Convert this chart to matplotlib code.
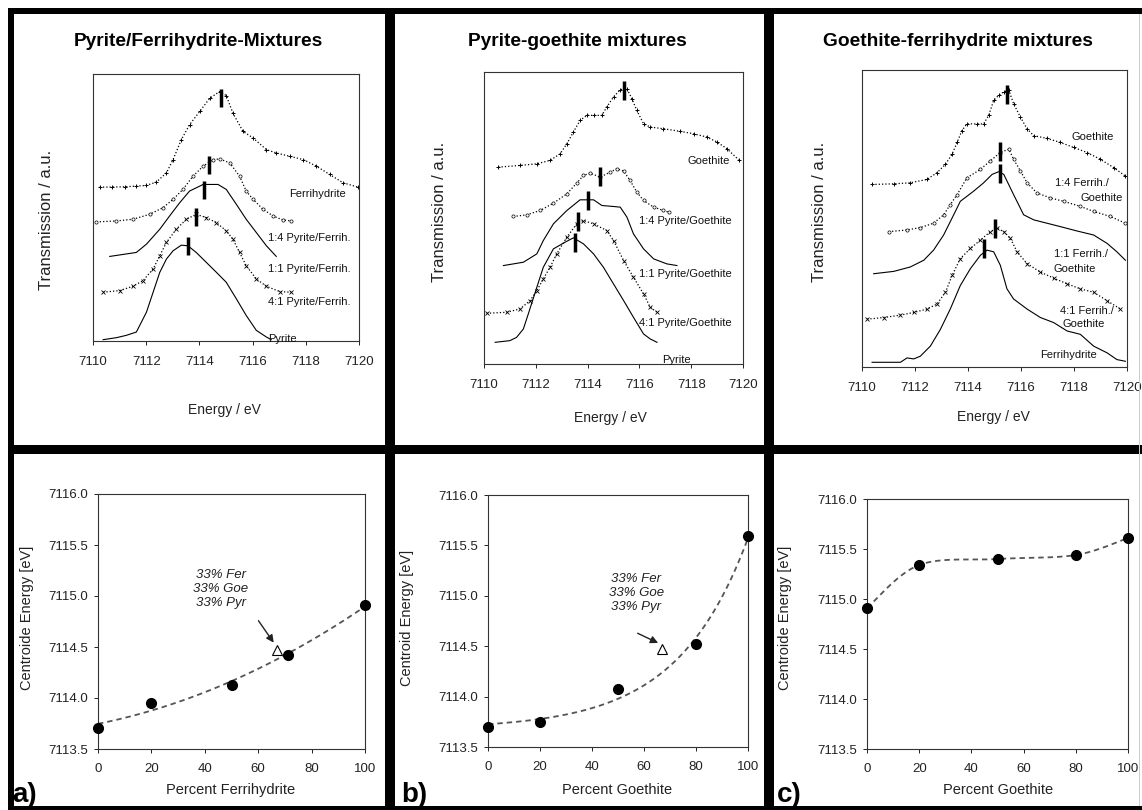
import numpy as np
import matplotlib
matplotlib.use("Agg")
import matplotlib.pyplot as plt
from matplotlib.patches import Rectangle

plt.rcParams['font.family'] = ['Liberation Sans', 'DejaVu Sans']

W, H = 1142, 810

# ---- top row: XANES pre-edge spectra (energy in eV, transmission in a.u.) ----
# Pyrite / ferrihydrite
p1_ferri_e = [7110.25, 7110.7, 7111.2, 7111.6, 7112.0, 7112.38, 7112.76, 7113.01, 7113.32, 7113.63, 7114.01,
              7114.39, 7114.76, 7115.01, 7115.26, 7115.64, 7116.02, 7116.52, 7116.89, 7117.39, 7117.9, 7118.4,
              7118.9, 7119.4, 7119.96]
p1_ferri_y = [452, 452, 453, 455, 457, 467, 495, 535, 595, 640, 680, 720, 740, 728, 675, 620, 600, 565, 555, 545,
              535, 515, 490, 465, 452]
p1_14_e = [7110.13, 7110.88, 7111.5, 7112.13, 7112.63, 7113.01, 7113.38, 7113.76, 7114.14, 7114.51, 7114.76,
           7115.14, 7115.51, 7115.76, 7116.02, 7116.39, 7116.77, 7117.14, 7117.46]
p1_14_y = [347, 350, 355, 370, 390, 415, 445, 485, 515, 535, 537, 525, 485, 440, 415, 385, 365, 353, 350]
p1_11_e = [7110.63, 7111.63, 7112.01, 7112.51, 7112.88, 7113.26, 7113.63, 7114.14, 7114.7, 7115.01, 7115.39,
           7115.76, 7116.14, 7116.52, 7116.89]
p1_11_y = [243, 255, 280, 325, 365, 405, 440, 460, 460, 445, 400, 355, 315, 275, 243]
p1_41_e = [7110.38, 7111.0, 7111.5, 7111.88, 7112.26, 7112.51, 7112.76, 7113.13, 7113.51, 7113.88, 7114.26,
           7114.64, 7115.01, 7115.26, 7115.51, 7115.76, 7116.14, 7116.52, 7117.02, 7117.46]
p1_41_y = [135, 140, 153, 170, 205, 245, 285, 325, 355, 370, 360, 345, 320, 295, 255, 215, 175, 153, 137, 135]
p1_pyr_e = [7110.38, 7110.88, 7111.25, 7111.63, 7112.01, 7112.26, 7112.51, 7112.76, 7113.01, 7113.32, 7113.57,
            7113.88, 7114.26, 7114.64, 7115.01, 7115.39, 7115.76, 7116.14, 7116.52, 7116.7]
p1_pyr_y = [-8, -2, 5, 15, 75, 135, 195, 235, 260, 277, 275, 255, 225, 195, 165, 115, 65, 20, 0, -8]
p1_cent_e = [7114.82, 7114.36, 7114.16, 7113.86, 7113.57]
p1_cent_y = [722, 520, 443, 361, 274]
p1_labels = ["Ferrihydrite", "1:4 Pyrite/Ferrih.", "1:1 Pyrite/Ferrih.", "4:1 Pyrite/Ferrih.", "Pyrite"]
p1_lab_e = [7117.39, 7116.58, 7116.58, 7116.58, 7116.58]
p1_lab_y = [432, 300, 205, 105, -5]

# Pyrite / goethite
p2_goe_e = [7110.55, 7111.39, 7112.04, 7112.55, 7112.94, 7113.2, 7113.45, 7113.71, 7113.97, 7114.23, 7114.55,
            7114.74, 7115.0, 7115.26, 7115.52, 7115.71, 7115.9, 7116.16, 7116.42, 7116.93, 7117.58, 7118.09,
            7118.61, 7119.0, 7119.38, 7119.83]
p2_goe_y = [535, 540, 545, 555, 575, 605, 640, 675, 690, 690, 690, 715, 745, 767, 770, 740, 705, 665, 655, 650,
            642, 635, 625, 610, 590, 557]
p2_14_e = [7111.13, 7111.65, 7112.17, 7112.68, 7113.2, 7113.58, 7113.84, 7114.1, 7114.49, 7114.87, 7115.13,
           7115.39, 7115.64, 7115.9, 7116.16, 7116.55, 7116.93, 7117.13]
p2_14_y = [387, 392, 405, 427, 455, 487, 510, 517, 505, 520, 530, 523, 495, 460, 435, 415, 405, 400]
p2_11_e = [7110.75, 7111.52, 7112.04, 7112.29, 7112.68, 7113.2, 7113.71, 7114.23, 7114.55, 7115.0, 7115.26,
           7115.52, 7115.77, 7116.16, 7116.55, 7117.06, 7117.45]
p2_11_y = [240, 250, 275, 315, 365, 405, 437, 437, 420, 417, 415, 385, 335, 290, 260, 245, 240]
p2_41_e = [7110.1, 7110.88, 7111.39, 7111.78, 7112.04, 7112.29, 7112.55, 7112.81, 7113.2, 7113.58, 7113.84,
           7114.23, 7114.74, 7115.0, 7115.39, 7115.77, 7116.16, 7116.42, 7116.68]
p2_41_y = [97, 100, 110, 135, 165, 200, 235, 275, 325, 365, 375, 365, 345, 315, 255, 205, 155, 115, 100]
p2_pyr_e = [7110.43, 7111.0, 7111.26, 7111.52, 7111.71, 7112.04, 7112.29, 7112.68, 7113.13, 7113.45, 7113.84,
            7114.23, 7114.61, 7115.0, 7115.39, 7115.77, 7116.16, 7116.42, 7116.68]
p2_pyr_y = [10, 15, 25, 50, 95, 175, 235, 290, 310, 323, 305, 275, 235, 185, 135, 85, 35, 20, 10]
p2_cent_e = [7115.41, 7114.48, 7114.03, 7113.62, 7113.52]
p2_cent_y = [765, 507, 435, 373, 310]
p2_labels = ["Goethite", "1:4 Pyrite/Goethite", "1:1 Pyrite/Goethite", "4:1 Pyrite/Goethite", "Pyrite"]
p2_lab_e = [7117.84, 7115.97, 7115.97, 7115.97, 7116.87]
p2_lab_y = [552, 373, 215, 67, -43]

# Goethite / ferrihydrite
p3_goe_e = [7110.38, 7111.2, 7111.82, 7112.45, 7112.83, 7113.15, 7113.4, 7113.59, 7113.77, 7113.96, 7114.34,
            7114.59, 7114.78, 7114.97, 7115.16, 7115.35, 7115.54, 7115.72, 7115.98, 7116.23, 7116.48, 7116.98,
            7117.48, 7117.99, 7118.49, 7118.99, 7119.5, 7119.94]
p3_goe_y = [542, 544, 547, 557, 577, 602, 632, 667, 702, 722, 722, 722, 747, 792, 807, 817, 822, 782, 742, 707,
            687, 679, 667, 652, 637, 617, 592, 567]
p3_14_e = [7111.01, 7111.7, 7112.2, 7112.7, 7113.08, 7113.33, 7113.59, 7113.96, 7114.47, 7114.84, 7115.22,
           7115.54, 7115.72, 7115.98, 7116.23, 7116.6, 7117.11, 7117.61, 7118.24, 7118.74, 7119.37, 7119.94]
p3_14_y = [402, 407, 414, 427, 452, 482, 512, 562, 587, 612, 637, 647, 617, 582, 547, 517, 502, 492, 477, 462,
           447, 427]
p3_11_e = [7110.44, 7111.2, 7111.82, 7112.33, 7112.7, 7113.08, 7113.46, 7113.71, 7114.21, 7114.59, 7114.91,
           7115.16, 7115.35, 7115.72, 7116.1, 7116.48, 7116.98, 7117.48, 7118.11, 7118.74, 7119.25, 7119.62,
           7119.94]
p3_11_y = [277, 284, 297, 317, 347, 392, 452, 492, 522, 547, 572, 580, 572, 512, 452, 437, 427, 417, 404, 392,
           367, 342, 317]
p3_41_e = [7110.19, 7110.82, 7111.45, 7111.95, 7112.45, 7112.83, 7113.15, 7113.4, 7113.71, 7114.09, 7114.47,
           7114.84, 7115.09, 7115.35, 7115.6, 7115.85, 7116.23, 7116.73, 7117.23, 7117.74, 7118.24, 7118.74,
           7119.25, 7119.75]
p3_41_y = [142, 147, 154, 162, 172, 187, 222, 272, 322, 352, 377, 402, 412, 402, 382, 342, 307, 282, 264, 247,
           232, 222, 197, 172]
p3_fer_e = [7110.38, 7111.45, 7111.7, 7111.95, 7112.2, 7112.58, 7112.96, 7113.33, 7113.71, 7114.09, 7114.47,
            7114.72, 7114.97, 7115.22, 7115.47, 7115.72, 7116.23, 7116.73, 7117.23, 7117.74, 7118.24, 7118.74,
            7119.25, 7119.62, 7119.94]
p3_fer_y = [14, 14, 27, 24, 32, 62, 112, 172, 242, 292, 332, 347, 342, 302, 232, 202, 172, 147, 132, 107, 97,
            62, 42, 22, 17]
p3_cent_e = [7115.47, 7115.19, 7115.19, 7115.01, 7114.59]
p3_cent_y = [809, 640, 575, 412, 352]
p3_labels = ["Goethite", "1:4 Ferrih./", "Goethite", "1:1 Ferrih./", "Goethite", "4:1 Ferrih./", "Goethite",
             "Ferrihydrite"]
p3_lab_e = [7117.92, 7117.30, 7118.24, 7117.23, 7117.23, 7117.48, 7117.55, 7116.73]
p3_lab_y = [684, 547, 502, 337, 292, 167, 127, 37]

# ---- bottom row: centroid energies ----
pct_a = [0, 20, 50, 71, 100]
cen_a = [7113.71, 7113.95, 7114.13, 7114.42, 7114.91]
pct_b = [0, 20, 50, 80, 100]
cen_b = [7113.70, 7113.75, 7114.08, 7114.52, 7115.59]
pct_c = [0, 20, 50, 80, 100]
cen_c = [7114.91, 7115.34, 7115.40, 7115.44, 7115.61]
tern_a = (67, 7114.47)
tern_b = (67, 7114.47)
tern_text = "33% Fer\n33% Goe\n33% Pyr"


def axes_px(fig, x0, y0, x1, y1):
    return fig.add_axes([x0 / W, 1 - y1 / H, (x1 - x0) / W, (y1 - y0) / H])


def rect_px(fig, x0, y0, x1, y1, color='black'):
    fig.add_artist(Rectangle((x0 / W, 1 - y1 / H), (x1 - x0) / W, (y1 - y0) / H,
                             transform=fig.transFigure, facecolor=color, edgecolor='none'))


def text_px(fig, x, y, s, **kw):
    fig.text(x / W, 1 - y / H, s, **kw)


def smooth(xs, ys, n=40):
    # excel-like smoothed line through the points (cubic bezier)
    P = np.column_stack([xs, ys]).astype(float)
    P = np.vstack([P[0], P, P[-1]])
    t = np.linspace(0, 1, n)[:, None]
    segs = []
    for i in range(1, len(P) - 2):
        p0, p1, p2, p3 = P[i - 1], P[i], P[i + 1], P[i + 2]
        c1 = p1 + (p2 - p0) / 6
        c2 = p2 - (p3 - p1) / 6
        segs.append((1 - t) ** 3 * p1 + 3 * (1 - t) ** 2 * t * c1 + 3 * (1 - t) * t ** 2 * c2 + t ** 3 * p2)
    seg = np.vstack(segs)
    return seg[:, 0], seg[:, 1]


def exp_fit(xs, ys, xx):
    # least squares y = a + b*exp(k*x), k picked on a grid
    xs, ys = np.asarray(xs, float), np.asarray(ys, float)
    best = None
    for k in np.linspace(0.005, 0.1, 400):
        A = np.column_stack([np.ones_like(xs), np.exp(k * xs)])
        coef = np.linalg.lstsq(A, ys, rcond=None)[0]
        r = np.sum((A @ coef - ys) ** 2)
        if best is None or r < best[0]:
            best = (r, k, coef)
    _, k, coef = best
    return coef[0] + coef[1] * np.exp(k * xx)


def spectrum(ax, e, y, kind):
    if kind == 'plus':
        ax.plot(e, y, ls=':', lw=0.9, color='k', marker='+', ms=3.5, mew=0.7)
    elif kind == 'circ':
        ax.plot(e, y, ls=':', lw=0.9, color='k', marker='o', ms=2.3, mfc='white', mew=0.5)
    elif kind == 'x':
        ax.plot(e, y, ls=':', lw=0.9, color='k', marker='x', ms=2.5, mew=0.6)
    else:
        ax.plot(e, y, ls='-', lw=0.8, color='k')


def style_top(ax, ylim):
    ax.set_xlim(7110, 7120)
    ax.set_ylim(*ylim)
    ax.set_xticks(range(7110, 7121, 2))
    ax.set_yticks([])
    ax.tick_params(axis='x', direction='out', length=3, width=0.7, labelsize=9.5, pad=8, colors='#222222')
    for s in ax.spines.values():
        s.set_linewidth(0.8)
        s.set_color('#333333')


def style_bottom(ax):
    ax.set_xlim(0, 100)
    ax.set_ylim(7113.5, 7116.0)
    ax.set_xticks(range(0, 101, 20))
    ax.set_yticks(np.arange(7113.5, 7116.01, 0.5))
    ax.yaxis.set_major_formatter(matplotlib.ticker.FormatStrFormatter('%.1f'))
    ax.tick_params(direction='out', length=3, width=0.7, labelsize=9.5, colors='#222222')
    ax.tick_params(axis='x', pad=7)
    ax.tick_params(axis='y', pad=4)
    for s in ax.spines.values():
        s.set_linewidth(0.8)
        s.set_color('#333333')


fig = plt.figure(figsize=(W / 100, H / 100), dpi=100)
fig.patch.set_facecolor('white')

# ---- top panels ----
top_axes = [
    (axes_px(fig, 93, 74, 359, 341), (-12, 793)),
    (axes_px(fig, 484, 72, 743, 364), (-55, 820)),
    (axes_px(fig, 862, 70, 1127, 367), (0, 882)),
]

ax1 = top_axes[0][0]
spectrum(ax1, p1_ferri_e, p1_ferri_y, 'plus')
spectrum(ax1, p1_14_e, p1_14_y, 'circ')
spectrum(ax1, p1_11_e, p1_11_y, 'solid')
spectrum(ax1, p1_41_e, p1_41_y, 'x')
spectrum(ax1, p1_pyr_e, p1_pyr_y, 'solid')
ax1.vlines(p1_cent_e, np.array(p1_cent_y) - 27, np.array(p1_cent_y) + 27, color='k', lw=2.5)
for s, e, y in zip(p1_labels, p1_lab_e, p1_lab_y):
    ax1.text(e, y, s, fontsize=8, va='center', ha='left', color='#111111')

ax2 = top_axes[1][0]
spectrum(ax2, p2_goe_e, p2_goe_y, 'plus')
spectrum(ax2, p2_14_e, p2_14_y, 'circ')
spectrum(ax2, p2_11_e, p2_11_y, 'solid')
spectrum(ax2, p2_41_e, p2_41_y, 'x')
spectrum(ax2, p2_pyr_e, p2_pyr_y, 'solid')
ax2.vlines(p2_cent_e, np.array(p2_cent_y) - 28, np.array(p2_cent_y) + 28, color='k', lw=2.5)
for s, e, y in zip(p2_labels, p2_lab_e, p2_lab_y):
    ax2.text(e, y, s, fontsize=8, va='center', ha='left', color='#111111')

ax3 = top_axes[2][0]
spectrum(ax3, p3_goe_e, p3_goe_y, 'plus')
spectrum(ax3, p3_14_e, p3_14_y, 'circ')
spectrum(ax3, p3_11_e, p3_11_y, 'solid')
spectrum(ax3, p3_41_e, p3_41_y, 'x')
spectrum(ax3, p3_fer_e, p3_fer_y, 'solid')
ax3.vlines(p3_cent_e, np.array(p3_cent_y) - 28, np.array(p3_cent_y) + 28, color='k', lw=2.5)
for s, e, y in zip(p3_labels, p3_lab_e, p3_lab_y):
    ax3.text(e, y, s, fontsize=8, va='center', ha='left', color='#111111')

for ax, ylim in top_axes:
    style_top(ax, ylim)

titles = ["Pyrite/Ferrihydrite-Mixtures", "Pyrite-goethite mixtures", "Goethite-ferrihydrite mixtures"]
title_x = [198, 577, 958]
ylab_x = [47, 440, 820]
ylab_y = [220, 212, 212]
elab_x = [224, 610, 993]
elab_y = [410, 418, 417]
for i in range(3):
    text_px(fig, title_x[i], 42, titles[i], fontsize=13.8, fontweight='bold', ha='center', va='center')
    text_px(fig, ylab_x[i], ylab_y[i], "Transmission / a.u.", fontsize=12, rotation=90,
            ha='center', va='center', color='#222222')
    text_px(fig, elab_x[i], elab_y[i], "Energy / eV", fontsize=10, ha='center', va='center', color='#222222')

# ---- bottom panels ----
axa = axes_px(fig, 98, 494, 365, 749)
axb = axes_px(fig, 488, 495, 748, 747)
axc = axes_px(fig, 867, 499, 1128, 749)

xx = np.linspace(0, 100, 200)
fit_a = np.polyval(np.polyfit(pct_a, cen_a, 2), xx)
fit_b = exp_fit(pct_b, cen_b, xx)
sx, sy = smooth(pct_c, cen_c)

dash = dict(color='#555555', lw=1.3, ls=(0, (3, 2.2)))
axa.plot(xx, fit_a, **dash)
axb.plot(xx, fit_b, **dash)
axc.plot(sx, sy, **dash)

for ax, p, c in [(axa, pct_a, cen_a), (axb, pct_b, cen_b), (axc, pct_c, cen_c)]:
    ax.plot(p, c, 'o', color='black', ms=7, clip_on=False, zorder=5)
    style_bottom(ax)

for ax, tern, txt_xy, arr_from in [(axa, tern_a, (46, 7115.07), (59.5, 7114.78)),
                                   (axb, tern_b, (57, 7115.03), (56.6, 7114.64))]:
    ax.plot(*tern, marker='^', ms=7, mfc='white', mec='black', mew=0.8, zorder=6)
    ax.text(*txt_xy, tern_text, fontsize=9.5, style='italic', ha='center', va='center',
            linespacing=1.25, color='#222222')
    ax.annotate("", xy=(tern[0] - 0.6, tern[1] + 0.05), xytext=arr_from,
                arrowprops=dict(arrowstyle='-|>', color='#222222', lw=1.0, mutation_scale=11))

ylabels = ["Centroide Energy [eV]", "Centroid Energy [eV]", "Centroide Energy [eV]"]
xlabels = ["Percent Ferrihydrite", "Percent Goethite", "Percent Goethite"]
yl_x = [27, 407, 785]
xl_x = [231, 617, 998]
tags = ["a)", "b)", "c)"]
tag_x = [12, 401, 777]
for i in range(3):
    text_px(fig, yl_x[i], 618, ylabels[i], fontsize=10.5, rotation=90, ha='center', va='center', color='#222222')
    text_px(fig, xl_x[i], 790, xlabels[i], fontsize=10.5, ha='center', va='center', color='#222222')
    text_px(fig, tag_x[i], 802, tags[i], fontsize=20, fontweight='bold', ha='left', va='baseline')

# ---- thick panel frames ----
rect_px(fig, 8, 8, W, 14)
rect_px(fig, 8, 8, 14, H)
rect_px(fig, 8, 445, W, 454)
rect_px(fig, 385, 8, 395, H)
rect_px(fig, 764, 8, 774, H)
rect_px(fig, 8, 806, W, H)
rect_px(fig, 1139, 14, 1140, 806, color='#cccccc')

fig.savefig("out.png", dpi=100, facecolor='white')
